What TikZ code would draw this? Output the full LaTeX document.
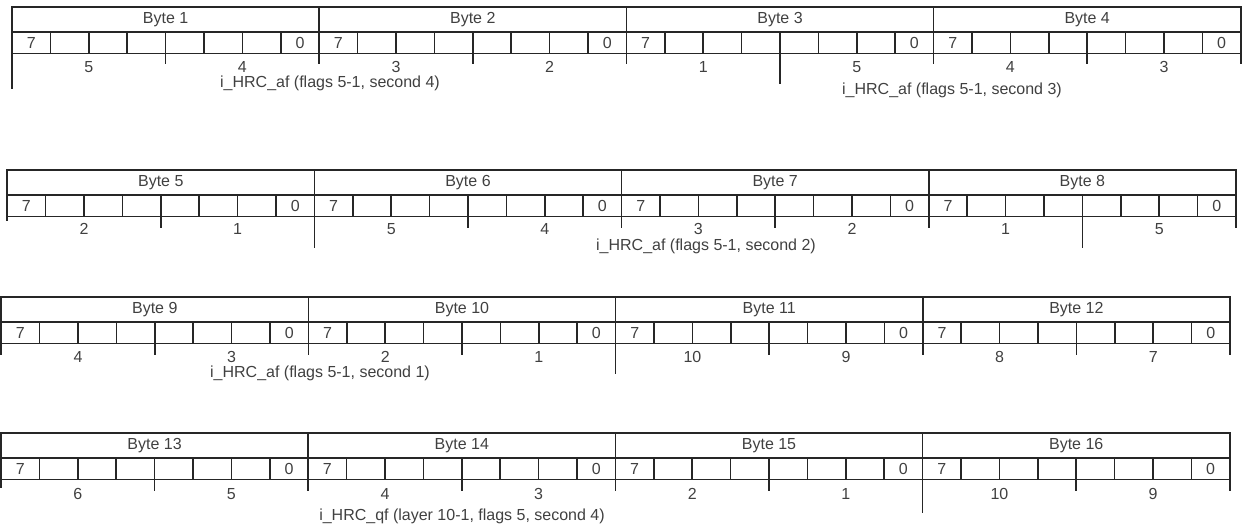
\documentclass[tikz,border=0pt]{standalone}
\usepackage{fontspec}
\setmainfont{Liberation Sans}
\begin{document}
\begin{tikzpicture}[x=1pt,y=-1pt,line width=1.5pt,draw=black!85,
        font=\fontsize{16}{18}\selectfont,text=black!75,
        every node/.style={inner sep=0pt}]
        \useasboundingbox (0,0) rectangle (1242,527);

        %%%%%%%% Righe %%%%%%%%%
        \foreach \r/\x/\y/\l in {0/12/7/35,1/7.2/170/4,2/1.2/297/11,3/1/433/8} {
            \draw (\x,\y) rectangle ++(1228.8,46.5);
            \draw ({\x},{\y+25}) -- ++(1228.8,0);
            \foreach \k in {1,2,3}
                \draw ({\x+\k*307.2},\y) -- ++(0,46.5);
            \foreach \i in {1,...,31}
                \draw ({\x+\i*38.4},{\y+25}) -- ++(0,21.5);
            \foreach \i in {4,8,...,32}
                \draw ({\x+\i*38.4},{\y+46.5}) -- ++(0,11);
            \draw ({\x},{\y+46.5}) -- ++(0,\l);
            \foreach \k in {0,...,3} {
                \pgfmathtruncatemacro\n{4*\r+\k+1}
                \node (byte\n) at ({\x+\k*307.2+153.6},{\y+12.5}) {Byte \n};
                \node (msb\n) at ({\x+\k*307.2+19.2},{\y+35.75}) {7};
                \node (lsb\n) at ({\x+\k*307.2+288},{\y+35.75}) {0};
            }
        }

        %%%%%%%% Tacche lunghe %%%%%%%%%
        \draw (780,53.5) -- ++(0,30);
        \foreach \i in {8,28}
            \draw ({7.2+\i*38.4},216.5) -- ++(0,31);
        \draw (615.6,343.5) -- ++(0,30);
        \draw (922.6,479.5) -- ++(0,33);

        %%%%%%%% Nibble %%%%%%%%%
        \foreach \v [count=\i from 0] in {5,4,3,2,1,5,4,3}
            \node (na\i) at ({12+(\i*4+2)*38.4},67) {\v};
        \foreach \v [count=\i from 0] in {2,1,5,4,3,2,1,5}
            \node (nb\i) at ({7.2+(\i*4+2)*38.4},229) {\v};
        \foreach \v [count=\i from 0] in {4,3,2,1,10,9,8,7}
            \node (nc\i) at ({1.2+(\i*4+2)*38.4},357) {\v};
        \foreach \v [count=\i from 0] in {6,5,4,3,2,1,10,9}
            \node (nd\i) at ({1+(\i*4+2)*38.4},494) {\v};

        %%%%%%%% Campi %%%%%%%%%
        \node (f1) at (330,83) {i\_HRC\_af (flags 5-1, second 4)};
        \node (f2) at (952,90) {i\_HRC\_af (flags 5-1, second 3)};
        \node (f3) at (706,246) {i\_HRC\_af (flags 5-1, second 2)};
        \node (f4) at (320,373) {i\_HRC\_af (flags 5-1, second 1)};
        \node (f5) at (462,516) {i\_HRC\_qf (layer 10-1, flags 5, second 4)};

    \end{tikzpicture}
\end{document}
